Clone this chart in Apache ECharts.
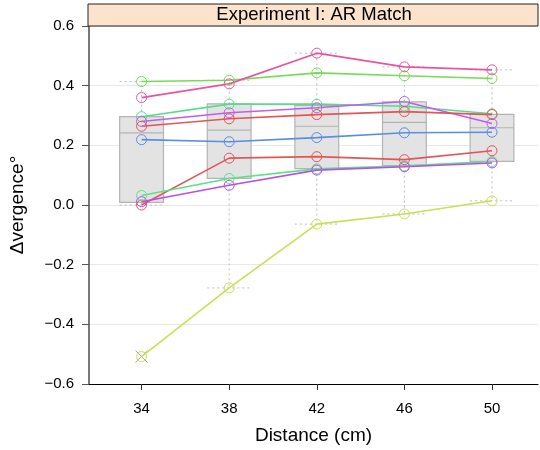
<!DOCTYPE html>
<html>
<head>
<meta charset="utf-8">
<script src="https://cdn.jsdelivr.net/npm/echarts@6/dist/echarts.min.js"></script>
<style>
  html, body { margin: 0; padding: 0; background: #fff; }
  #chart { width: 540px; height: 450px; }
</style>
</head>
<body>
<div id="chart"></div>
<script>
// distances on the x axis (cm)
const distances = [34, 38, 42, 46, 50]

// one line per subject, values read at each distance
const subjectValues = [
  [0.414, 0.418, 0.443, 0.433, 0.424],
  [0.360, 0.406, 0.509, 0.463, 0.453],
  [0.296, 0.338, 0.338, 0.331, 0.306],
  [0.280, 0.309, 0.326, 0.347, 0.273],
  [0.264, 0.289, 0.303, 0.313, 0.303],
  [0.219, 0.212, 0.226, 0.242, 0.244],
  [0.000, 0.157, 0.162, 0.152, 0.182],
  [0.032, 0.089, 0.121, 0.131, 0.146],
  [0.011, 0.066, 0.117, 0.128, 0.141],
  [-0.508, -0.278, -0.064, -0.030, 0.014],
]
const subjectColors = [
  '#74dc55', '#e8559f', '#55dd88', '#c25cec', '#e25656',
  '#5a8ee2', '#e25656', '#5ce08a', '#bb4ee6', '#c9e055',
]

// box statistics per distance
const lowerWhisker = [0.000, -0.278, -0.064, -0.030, 0.014]
const lowerQuartile = [0.009, 0.089, 0.122, 0.132, 0.146]
const medians = [0.242, 0.251, 0.264, 0.277, 0.259]
const upperQuartile = [0.296, 0.339, 0.334, 0.346, 0.304]
const upperWhisker = [0.414, 0.418, 0.509, 0.463, 0.453]
const outliers = [[34, -0.508]]

const chart = echarts.init(document.getElementById('chart'))
const FONT = 'Liberation Sans, Arial, sans-serif'

const boxRows = distances.map((d, i) => [d, lowerWhisker[i], lowerQuartile[i], medians[i], upperQuartile[i], upperWhisker[i]])

const dotted = { stroke: '#bdbdbd', lineWidth: 1, lineDash: [2, 3] }

const series = [
  {
    type: 'custom',
    data: boxRows,
    z: 1,
    renderItem: function (params, api) {
      const x = api.value(0)
      const lo = api.coord([x - 1, api.value(1)])
      const q1 = api.coord([x - 1, api.value(2)])
      const q1r = api.coord([x + 1, api.value(2)])
      const med = api.coord([x - 1, api.value(3)])
      const medr = api.coord([x + 1, api.value(3)])
      const q3 = api.coord([x - 1, api.value(4)])
      const hi = api.coord([x - 1, api.value(5)])
      const hir = api.coord([x + 1, api.value(5)])
      const lor = api.coord([x + 1, api.value(1)])
      const c = api.coord([x, 0])[0]
      return {
        type: 'group',
        children: [
          { type: 'line', shape: { x1: c, y1: q3[1], x2: c, y2: hi[1] }, style: dotted },
          { type: 'line', shape: { x1: c, y1: q1[1], x2: c, y2: lo[1] }, style: dotted },
          { type: 'line', shape: { x1: hi[0], y1: hi[1], x2: hir[0], y2: hir[1] }, style: dotted },
          { type: 'line', shape: { x1: lo[0], y1: lo[1], x2: lor[0], y2: lor[1] }, style: dotted },
          {
            type: 'rect',
            shape: { x: q3[0], y: q3[1], width: q1r[0] - q1[0], height: q1[1] - q3[1] },
            style: { fill: '#e3e3e3', stroke: '#b4b4b4', lineWidth: 1.2 },
          },
          { type: 'line', shape: { x1: med[0], y1: med[1], x2: medr[0], y2: medr[1] }, style: { stroke: '#b4b4b4', lineWidth: 1.2 } },
        ],
      }
    },
  },
  {
    type: 'custom',
    data: outliers,
    z: 1,
    renderItem: function (params, api) {
      const p = api.coord([api.value(0), api.value(1)])
      const r = 6
      const st = { stroke: '#a8a8a8', lineWidth: 1 }
      return {
        type: 'group',
        children: [
          { type: 'line', shape: { x1: p[0] - r, y1: p[1] - r, x2: p[0] + r, y2: p[1] + r }, style: st },
          { type: 'line', shape: { x1: p[0] - r, y1: p[1] + r, x2: p[0] + r, y2: p[1] - r }, style: st },
        ],
      }
    },
  },
]

subjectValues.forEach((vals, i) => {
  series.push({
    type: 'line',
    z: 3,
    data: vals.map((v, j) => [distances[j], v]),
    symbol: 'circle',
    symbolSize: 10,
    lineStyle: { color: subjectColors[i], width: 1.6 },
    itemStyle: { color: 'transparent', borderColor: subjectColors[i], borderWidth: 1 },
    emphasis: { disabled: true },
  })
})

const option = {
  animation: false,
  grid: { left: 88, right: 2, top: 26, bottom: 64 },
  xAxis: {
    type: 'value',
    min: 31.6,
    max: 52.1,
    name: 'Distance (cm)',
    nameLocation: 'middle',
    nameGap: 42,
    nameTextStyle: { fontFamily: FONT, fontSize: 19, color: '#000' },
    axisLine: { onZero: false, lineStyle: { color: '#000', width: 1 } },
    axisTick: { customValues: distances, length: 6, lineStyle: { color: '#333' } },
    axisLabel: { customValues: distances, fontFamily: FONT, fontSize: 15, color: '#000', margin: 17 },
    splitLine: { show: false },
  },
  yAxis: {
    type: 'value',
    min: -0.6,
    max: 0.6,
    interval: 0.2,
    name: 'Δvergence°',
    nameLocation: 'middle',
    nameGap: 62,
    nameTextStyle: { fontFamily: FONT, fontSize: 19, color: '#000' },
    axisLine: { show: true, onZero: false, lineStyle: { color: '#777', width: 2 } },
    axisTick: { show: true, length: 7, lineStyle: { color: '#555' } },
    axisLabel: {
      fontFamily: FONT, fontSize: 15, color: '#000', margin: 15,
      formatter: function (v) { return (v < 0 ? '\u2212' : '') + Math.abs(v).toFixed(1) },
    },
    splitLine: { show: true, lineStyle: { color: '#e8e8e8', width: 1 } },
  },
  graphic: [
    {
      type: 'rect',
      shape: { x: 88, y: 4, width: 450, height: 22 },
      style: { fill: '#fde3cc', stroke: '#222', lineWidth: 1 },
      z: 10,
    },
    {
      type: 'text',
      x: 314,
      y: 15,
      style: { text: 'Experiment I: AR Match', fontFamily: FONT, fontSize: 18.5, fill: '#000', align: 'center', verticalAlign: 'middle' },
      z: 11,
    },
  ],
  series: series,
}

chart.setOption(option)
</script>
</body>
</html>
